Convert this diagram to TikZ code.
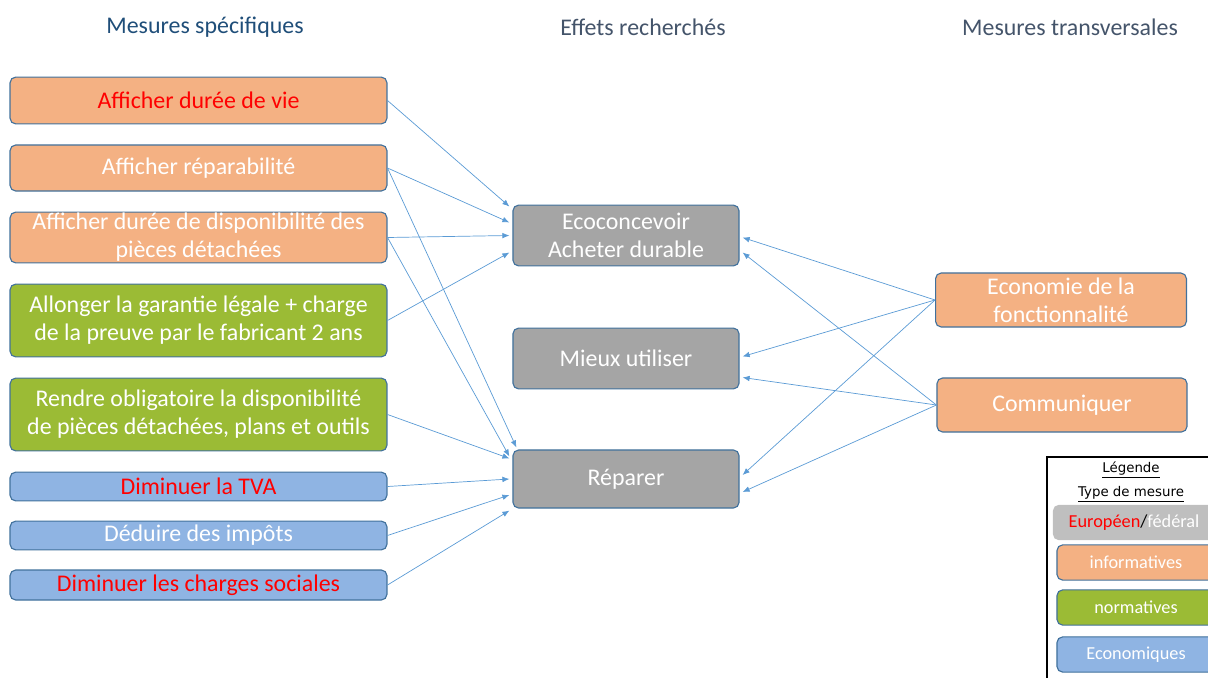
\documentclass[tikz,border=0pt]{standalone}
\usepackage{fontspec}
\setmainfont{Carlito}
\newfontfamily\legfont{DejaVu Sans}
\usetikzlibrary{arrows.meta,calc}
\definecolor{orangebox}{HTML}{F4B183}
\definecolor{vertbox}{HTML}{9BBB35}
\definecolor{bleubox}{HTML}{8FB4E3}
\definecolor{grisbox}{HTML}{A5A5A5}
\definecolor{grisleg}{HTML}{BFBFBF}
\definecolor{bordure}{HTML}{41719C}
\definecolor{fleche}{HTML}{5B9BD5}
\definecolor{titrebleu}{HTML}{1F4E79}
\definecolor{titregris}{HTML}{44546A}
\tikzstyle{boite}=[draw=bordure, line width=0.8pt, rounded corners=4pt, text=white, align=center, inner sep=0pt, font=\fontsize{17}{20}\selectfont]
\tikzstyle{mesure}=[boite, minimum width=9.42cm]
\tikzstyle{effet}=[boite, fill=grisbox, minimum width=5.65cm]
\tikzstyle{trans}=[boite, fill=orangebox, minimum width=6.27cm, minimum height=1.35cm]
\tikzstyle{titre}=[font=\fontsize{17}{20}\selectfont]
\tikzstyle{legboite}=[boite, minimum width=3.95cm, minimum height=0.88cm, font=\fontsize{13}{15}\selectfont]
\tikzstyle{lien}=[fleche, line width=0.5pt, -{Latex[length=5pt,width=4pt]}]

\begin{document}
\begin{tikzpicture}[x=0.025cm, y=-0.025cm]
    \clip (0,0) rectangle (1208,677);
% Titres
    \node[titre, text=titrebleu] (t1) at (205,27) {Mesures spécifiques};
    \node[titre, text=titregris] (t2) at (643,27) {Effets recherchés};
    \node[titre, text=titregris] (t3) at (1070,27) {Mesures transversales};
% Mesures specifiques
    \node[mesure, fill=orangebox, minimum height=1.17cm, text=red] (m1) at (198.5,100.5) {Afficher durée de vie};
    \node[mesure, fill=orangebox, minimum height=1.15cm] (m2) at (198.5,168) {Afficher réparabilité};
    \node[mesure, fill=orangebox, minimum height=1.27cm] (m3) at (198.5,237.5) {Afficher durée de disponibilité des\\pièces détachées};
    \node[mesure, fill=vertbox, minimum height=1.82cm] (m4) at (198.5,320.5) {Allonger la garantie légale + charge\\de la preuve par le fabricant 2 ans};
    \node[mesure, fill=vertbox, minimum height=1.82cm] (m5) at (198.5,414.5) {Rendre obligatoire la disponibilité\\de pièces détachées, plans et outils};
    \node[mesure, fill=bleubox, minimum height=0.72cm, text=red] (m6) at (198.5,486.5) {Diminuer la TVA};
    \node[mesure, fill=bleubox, minimum height=0.72cm] (m7) at (198.5,535.5) {Déduire des impôts};
    \node[mesure, fill=bleubox, minimum height=0.75cm, text=red] (m8) at (198.5,585) {Diminuer les charges sociales};
% Effets recherches
    \node[effet, minimum height=1.52cm] (eco) at (626,235.5) {Ecoconcevoir\\Acheter durable};
    \node[effet, minimum height=1.52cm] (mieux) at (626,358.5) {Mieux utiliser};
    \node[effet, minimum height=1.45cm] (rep) at (626,479) {Réparer};
% Mesures transversales
    \node[trans] (fonc) at (1061,300) {Economie de la\\fonctionnalité};
    \node[trans, minimum width=6.25cm] (com) at (1062,405) {Communiquer};
% Fleches gauche
    \draw[lien] (m1.east) -- ($(eco.north west)+(-3,2)$);
    \draw[lien] (m2.east) -- ($(eco.west)+(-3,-13)$);
    \draw[lien] (m2.east) -- ($(rep.north west)+(4,-2)$);
    \draw[lien] (m3.east) -- ($(eco.west)+(-3,0)$);
    \draw[lien] (m3.east) -- ($(rep.north west)+(-3,7)$);
    \draw[lien] (m4.east) -- ($(eco.west)+(-3,17)$);
    \draw[lien] (m5.east) -- ($(rep.north west)+(-3,9)$);
    \draw[lien] (m6.east) -- ($(rep.west)+(-3,0)$);
    \draw[lien] (m7.east) -- ($(rep.west)+(-3,16)$);
    \draw[lien] (m8.east) -- ($(rep.south west)+(-3,2)$);
% Fleches droite
    \draw[lien] (fonc.west) -- ($(eco.east)+(3,2)$);
    \draw[lien] (fonc.west) -- ($(mieux.east)+(3,-2)$);
    \draw[lien] (fonc.west) -- ($(rep.east)+(3,-4)$);
    \draw[lien] (com.west) -- ($(eco.east)+(3,17)$);
    \draw[lien] (com.west) -- ($(mieux.east)+(3,19)$);
    \draw[lien] (com.west) -- ($(rep.east)+(3,13)$);
% Legende
    \draw[line width=0.8pt] (1047,457) rectangle (1230,700);
    \node[font=\legfont\fontsize{9.5}{11}\selectfont] (leg) at (1131,470) {\underline{Légende}};
    \node[font=\legfont\fontsize{9.5}{11}\selectfont] (type) at (1131,494) {\underline{Type de mesure}};
    \node[legboite, draw=none, fill=grisleg, minimum width=4.05cm] (eur) at (1134,522.5) {\textcolor{red}{Européen}\textcolor{black}{/}fédéral};
    \node[legboite, fill=orangebox] (inf) at (1136,562.5) {informatives};
    \node[legboite, fill=vertbox] (nor) at (1136,607.5) {normatives};
    \node[legboite, fill=bleubox] (eco2) at (1136,654.5) {Economiques};
\end{tikzpicture}
\end{document}
